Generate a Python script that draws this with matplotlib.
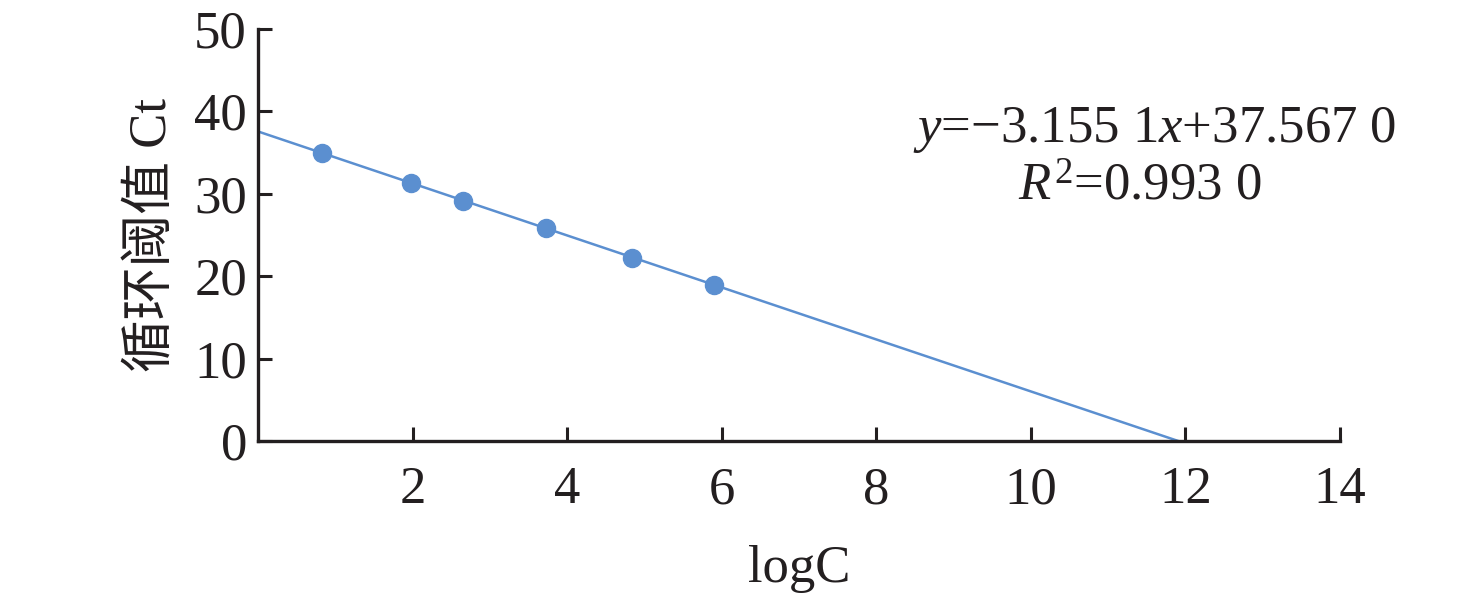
import matplotlib
matplotlib.use("Agg")
import matplotlib.pyplot as plt
import numpy as np

plt.rcParams['font.family'] = ['Liberation Serif', 'Noto Sans CJK SC', 'DejaVu Sans']
plt.rcParams['mathtext.fontset'] = 'custom'
plt.rcParams['mathtext.rm'] = 'Liberation Serif'
plt.rcParams['mathtext.it'] = 'Liberation Serif:italic'

# data
logC = [0.83, 1.98, 2.65, 3.73, 4.84, 5.90]
ct = [35.0, 31.3, 29.1, 25.8, 22.2, 18.9]
slope = -3.1551
intercept = 37.5670
fit_x_range = [0.0, 11.9]
xticks = [2, 4, 6, 8, 10, 12, 14]
yticks = [0, 10, 20, 30, 40, 50]

color = '#5b8fd0'
dark = '#231f20'

fig = plt.figure(figsize=(14.76, 5.96), dpi=100)
ax = fig.add_axes([258/1476, 1-441/596, (1340-258)/1476, (441-29)/596])

fx = np.array(fit_x_range)
ax.plot(fx, slope*fx + intercept, color=color, lw=1.8, zorder=2)
ax.plot(logC, ct, 'o', color=color, ms=13, zorder=3)

ax.set_xlim(0, 14)
ax.set_ylim(0, 50)
ax.set_xticks(xticks)
ax.set_yticks(yticks)
ax.tick_params(axis='both', direction='in', length=10, width=2.2, labelsize=38, colors=dark)
ax.tick_params(axis='x', pad=18)
ax.tick_params(axis='y', pad=8)
for s in ['top', 'right']:
    ax.spines[s].set_visible(False)
for s in ['left', 'bottom']:
    ax.spines[s].set_linewidth(2.4)
    ax.spines[s].set_color(dark)

ax.set_xlabel('logC', fontsize=38, color=dark, labelpad=22)
ax.set_ylabel('循环阈值 Ct', fontsize=38, color=dark, labelpad=12)

fig.text(1155/1476, 1-130/596, '$y$=−3.155 1$x$+37.567 0', fontsize=38,
         ha='center', va='center', color=dark)
fig.text(1140/1476, 1-187/596, '$R^2$=0.993 0', fontsize=38,
         ha='center', va='center', color=dark)

fig.savefig('out.png', dpi=100)
